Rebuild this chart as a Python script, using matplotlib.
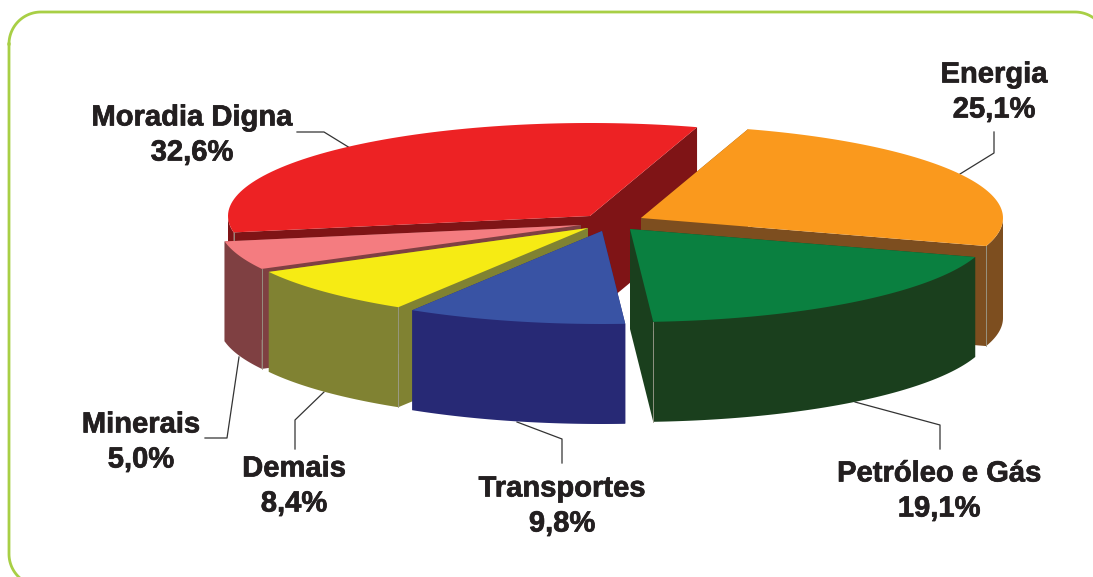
import numpy as np
import matplotlib
matplotlib.use("Agg")
import matplotlib.pyplot as plt
import matplotlib.patheffects as pe

# shares of each sector, in %
labels = ["Energia", "Petróleo e Gás", "Transportes", "Demais", "Minerais", "Moradia Digna"]
values = [25.1, 19.1, 9.8, 8.4, 5.0, 32.6]
value_text = ["25,1%", "19,1%", "9,8%", "8,4%", "5,0%", "32,6%"]

top_colors = ["#FA991D", "#0A8040", "#3953A4", "#F6EB14", "#F47C80", "#ED2224"]
wall_colors = ["#7D4E1F", "#1A3F1D", "#272975", "#808232", "#7F4042", "#7F1416"]

# where each slice's tip sits (exploded by hand), in pixels
tips = [(641, 218), (630, 229), (602, 231), (588, 228), (581, 225), (590, 216)]
label_pos = [(994, 92), (939, 491), (562, 506), (294, 486), (141, 442), (192, 135)]
leaders = [
    [(960, 174), (994, 153), (994, 132)],
    [(855, 402), (940, 425), (940, 449)],
    [(517, 422), (562, 439), (562, 463)],
    [(324, 392), (295, 420), (295, 449)],
    [(239, 357), (227, 438), (205, 438)],
    [(350, 148), (324, 132), (297, 132)],
]

RX = 362
RY = 93
DEPTH = 100
START = 72.8

fig = plt.figure(figsize=(10.93, 5.77), dpi=100)
ax = fig.add_axes([0, 0, 1, 1])
ax.set_xlim(0, 1093)
ax.set_ylim(577, 0)
ax.axis("off")


def rim(tip, a0, a1):
    t = np.radians(np.linspace(a0, a1, 80))
    return tip[0] + RX * np.cos(t), tip[1] - RY * np.sin(t)


def draw_slice(i, a0, a1):
    tip = tips[i]
    z = 2 + order.index(i)
    wall = wall_colors[i]
    x, y = rim(tip, a0, a1)
    # cut faces first
    for k in (0, -1):
        ax.fill([tip[0], x[k], x[k], tip[0]],
                [tip[1], y[k], y[k] + DEPTH, tip[1] + DEPTH],
                color=wall, lw=0, zorder=z)
    # outer wall, front half of the rim only
    f0, f1 = min(a0, 0), max(a1, -180)
    if f0 > f1:
        fx, fy = rim(tip, f0, f1)
        ax.fill(np.r_[fx, fx[::-1]], np.r_[fy, fy[::-1] + DEPTH], color=wall, lw=0, zorder=z)
    # pale seam where a visible cut face meets the rim
    if -90 < a1 < 0:
        ax.plot([x[-1], x[-1]], [y[-1], y[-1] + DEPTH], color="#9a9a8a", lw=0.6, zorder=z + 0.5)
    if -180 < a0 < -90:
        ax.plot([x[0], x[0]], [y[0], y[0] + DEPTH], color="#9a9a8a", lw=0.6, zorder=z + 0.5)
    ax.fill(np.r_[tip[0], x], np.r_[tip[1], y], color=top_colors[i], lw=0, zorder=z + 0.6)


# back to front
order = [5, 0, 4, 3, 1, 2]
angles = START - np.cumsum(np.r_[0, values]) * 3.6
for i in range(len(values)):
    draw_slice(i, angles[i], angles[i + 1])

for i, pts in enumerate(leaders):
    ax.plot(*zip(*pts), color="#333333", lw=0.9, zorder=1)
    ax.text(label_pos[i][0], label_pos[i][1], labels[i] + "\n" + value_text[i],
            ha="center", va="center", family="Liberation Sans", weight="bold",
            fontsize=21, color="#231F20", linespacing=1.32, zorder=20,
            path_effects=[pe.withStroke(linewidth=0.5, foreground="#231F20")])

# rounded green frame, runs off the right and bottom of the picture
L, T, R, B, r = 9, 12, 1107, 586, 32
c = np.linspace(0, np.pi / 2, 30)
fx = np.r_[L + r - r * np.cos(c), R - r + r * np.sin(c), R - r + r * np.cos(c), L + r - r * np.sin(c), L]
fy = np.r_[T + r - r * np.sin(c), T + r - r * np.cos(c), B - r + r * np.sin(c), B - r + r * np.cos(c), T + r]
ax.plot(fx, fy, color="#A8CF45", lw=2, zorder=0)

fig.savefig("out.png", dpi=100)
